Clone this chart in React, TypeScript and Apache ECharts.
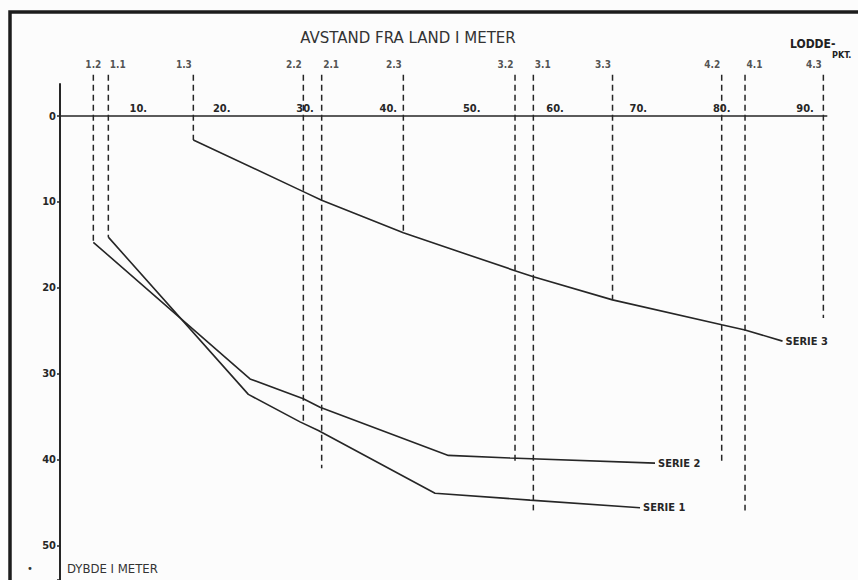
import React, { useEffect, useRef } from "react";
import * as echarts from "echarts";

// Stations (vertical dashed sounding lines): distance from land (m) and depth reached (m)
const stationNames = ["1.2", "1.1", "1.3", "2.2", "2.1", "2.3", "3.2", "3.1", "3.3", "4.2", "4.1", "4.3"];
const stationDistance = [4.0, 5.8, 16.0, 29.2, 31.4, 41.2, 54.6, 56.8, 66.3, 79.4, 82.2, 91.6];
const stationDepth = [14.7, 14.1, 2.8, 35.6, 41.0, 13.6, 40.6, 45.9, 21.4, 40.6, 45.9, 23.5];
const stationLabelSide = ["inside", "right", "left", "left", "right", "left", "left", "right", "left", "left", "right", "left"];

// Depth profiles
const serie1Distance = [5.8, 22.6, 28.8, 31.0, 45.0, 56.4, 69.6];
const serie1Depth = [14.1, 32.4, 35.6, 36.6, 43.9, 44.7, 45.6];
const serie2Distance = [4.0, 22.8, 29.2, 31.2, 46.6, 54.0, 71.4];
const serie2Depth = [14.7, 30.6, 32.9, 33.9, 39.5, 39.8, 40.4];
const serie3Distance = [16.0, 29.2, 31.4, 41.2, 54.6, 56.8, 66.3, 79.4, 82.2, 86.7];
const serie3Depth = [2.8, 8.8, 9.8, 13.6, 18.0, 18.7, 21.4, 24.3, 24.9, 26.2];

const seriesNames = ["SERIE 1", "SERIE 2", "SERIE 3"];
const depthTickLabels = [0, 10, 20, 30, 40, 50];
const distanceTickLabels = [10, 20, 30, 40, 50, 60, 70, 80, 90];

const STATION_TOP = -4.8;
const LABEL_ROW = -6.0;
const INK = "#262626";
const FONT = "DejaVu Sans Condensed";

export default function App() {
  const ref = useRef<HTMLDivElement>(null);
  useEffect(() => {
    if (!ref.current) return;
    const chart = echarts.init(ref.current, undefined, { renderer: "svg" });
    const zip = (xs: number[], ys: number[]) => xs.map((x, i) => [x, ys[i]]);

    const profileSeries = [
      [serie1Distance, serie1Depth],
      [serie2Distance, serie2Depth],
      [serie3Distance, serie3Depth],
    ].map(([xs, ys], i) => ({
      type: "line",
      name: seriesNames[i],
      data: zip(xs, ys),
      symbol: "none",
      silent: true,
      lineStyle: { color: INK, width: 1.6 },
      endLabel: {
        show: true,
        formatter: seriesNames[i],
        distance: 3,
        color: INK,
        fontFamily: FONT,
        fontSize: 11,
        fontWeight: "bold",
      },
    }));

    const stationSeries = stationNames.map((n, i) => ({
      type: "line",
      name: "st" + n,
      data: [
        [stationDistance[i], STATION_TOP],
        [stationDistance[i], stationDepth[i]],
      ],
      symbol: "none",
      silent: true,
      clip: false,
      lineStyle: { color: INK, width: 1.5, type: [6, 4] },
    }));

    chart.setOption({
      animation: false,
      backgroundColor: "#fcfcfc",
      grid: { left: 60, top: 116, right: 31.3, bottom: 0 },
      xAxis: {
        type: "value",
        position: "top",
        min: 0,
        max: 92,
        interval: 10,
        axisLine: { onZero: false, lineStyle: { color: INK, width: 1.6 } },
        axisTick: { show: false },
        splitLine: { show: false },
        axisLabel: {
          margin: 2,
          padding: [0, 10, 0, 0],
          color: INK,
          fontFamily: FONT,
          fontSize: 11,
          fontWeight: "bold",
          formatter: (v: number) => (distanceTickLabels.includes(v) ? v + "." : ""),
        },
      },
      yAxis: {
        type: "value",
        inverse: true,
        min: 0,
        max: 54,
        interval: 10,
        axisLine: { show: true, onZero: false, lineStyle: { color: INK, width: 2 } },
        axisTick: { show: true, length: 3, lineStyle: { color: INK, width: 1.5 } },
        splitLine: { show: false },
        axisLabel: {
          margin: 4,
          color: INK,
          fontFamily: FONT,
          fontSize: 11,
          fontWeight: "bold",
          formatter: (v: number) => (depthTickLabels.includes(v) ? String(v) : ""),
        },
      },
      series: [
        ...profileSeries,
        ...stationSeries,
        {
          type: "line",
          name: "axisExt",
          data: [
            [0, -3.8],
            [0, 0],
          ],
          symbol: "none",
          silent: true,
          clip: false,
          lineStyle: { color: INK, width: 2 },
        },
        {
          type: "scatter",
          name: "stationLabels",
          clip: false,
          silent: true,
          symbolSize: 1,
          itemStyle: { color: "rgba(0,0,0,0)" },
          data: stationNames.map((n, i) => ({
            name: n,
            value: [stationDistance[i], LABEL_ROW],
            label: { position: stationLabelSide[i], distance: 1 },
          })),
          label: {
            show: true,
            formatter: "{b}",
            color: INK,
            fontFamily: FONT,
            fontSize: 10,
            fontWeight: "bold",
          },
        },
      ],
      graphic: [
        {
          type: "rect",
          shape: { x: 10, y: 12, width: 880, height: 600 },
          style: { fill: "none", stroke: "#1c1c1c", lineWidth: 3.5 },
          silent: true,
        },
        {
          type: "text",
          x: 408,
          y: 38,
          style: {
            text: "AVSTAND FRA LAND I METER",
            fill: "#333",
            font: "15px 'DejaVu Sans'",
            align: "center",
            verticalAlign: "middle",
          },
        },
        {
          type: "text",
          x: 790,
          y: 44,
          style: {
            text: "LODDE-",
            fill: "#222",
            font: "bold 12px 'DejaVu Sans Condensed'",
            align: "left",
            verticalAlign: "middle",
          },
        },
        {
          type: "text",
          x: 832,
          y: 55,
          style: {
            text: "PKT.",
            fill: "#222",
            font: "bold 9px 'DejaVu Sans Condensed'",
            align: "left",
            verticalAlign: "middle",
          },
        },
        {
          type: "text",
          x: 30,
          y: 568,
          style: { text: "•", fill: "#333", font: "10px 'DejaVu Sans'", align: "center", verticalAlign: "middle" },
        },
        {
          type: "text",
          x: 67,
          y: 568,
          style: {
            text: "DYBDE I METER",
            fill: "#333",
            font: "13px 'DejaVu Sans Condensed'",
            align: "left",
            verticalAlign: "middle",
          },
        },
      ],
    });
    return () => chart.dispose();
  }, []);
  return <div ref={ref} style={{ position: "fixed", left: 0, top: 0, width: 858, height: 580 }} />;
}
